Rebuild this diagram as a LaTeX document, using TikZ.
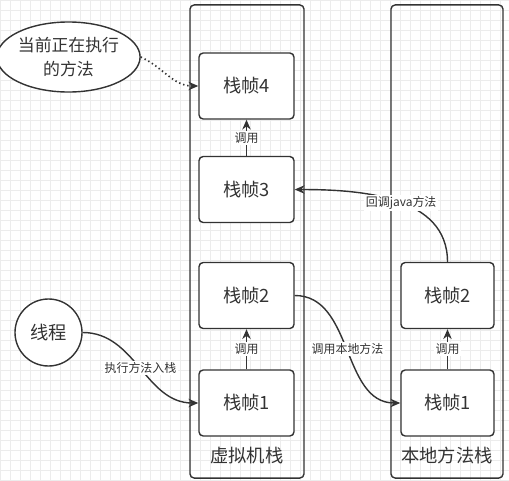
\documentclass[tikz,border=0pt]{standalone}
\usepackage{fontspec}
\setmainfont{Noto Sans CJK SC}
\usetikzlibrary{arrows.meta,positioning,shapes.geometric}
\definecolor{stkline}{RGB}{51,51,51}
\definecolor{stkgrid}{RGB}{236,236,236}

\begin{document}
\begin{tikzpicture}[x=0.025cm,y=-0.025cm,
  stack/.style={draw=stkline,line width=1pt,rounded corners=3pt,minimum width=2.85cm,minimum height=11.825cm},
  frame/.style={draw=stkline,line width=1pt,fill=white,rounded corners=3pt,minimum width=2.375cm,minimum height=1.65cm,font=\fontsize{13}{15}\selectfont,text=stkline},
  lbl/.style={fill=white,inner sep=1pt,font=\fontsize{8.5}{10}\selectfont,text=stkline},
  tip/.style={-{Stealth[length=7pt,width=6pt]}},
  link/.style={draw=stkline,line width=1pt,tip}]
  % --- background grid (10px) ---
  \useasboundingbox (0,0) rectangle (509,481);
  \foreach \gx in {0,10,...,500}{\draw[stkgrid,line width=0.4pt] (\gx,0) -- (\gx,481);}
  \foreach \gy in {0,10,...,480}{\draw[stkgrid,line width=0.4pt] (0,\gy) -- (509,\gy);}
  % --- the two stacks ---
  \node[stack] (vm) at (247,241.5) {};
  \node[stack,minimum width=2.8cm] (nat) at (447,241.5) {};
  \node[font=\fontsize{13}{15}\selectfont,text=stkline] (vmlab) at (247,456) {虚拟机栈};
  \node[font=\fontsize{13}{15}\selectfont,text=stkline] (natlab) at (447,456) {本地方法栈};
  % --- frames in the vm stack ---
  \node[frame] (f4) at (246.5,86) {栈帧4};
  \node[frame] (f3) at (246.5,189.5) {栈帧3};
  \node[frame] (f2) at (246.5,295.5) {栈帧2};
  \node[frame] (f1) at (246.5,403) {栈帧1};
  % --- frames in the native stack ---
  \node[frame,minimum width=2.325cm] (n2) at (447.5,295.5) {栈帧2};
  \node[frame,minimum width=2.325cm] (n1) at (447.5,403) {栈帧1};
  % --- current method, thread ---
  \node[ellipse,draw=stkline,line width=1pt,fill=white,minimum width=3.275cm,minimum height=1.75cm,inner sep=0pt,align=center,
        font=\fontsize{12}{17}\selectfont,text=stkline] (cur) at (68.5,57) {当前正在执行\\的方法};
  \node[circle,draw=stkline,line width=1pt,fill=white,minimum size=1.675cm,inner sep=0pt,
        font=\fontsize{13}{15}\selectfont,text=stkline] (thr) at (48.5,332.5) {线程};
  % --- calls inside the stacks ---
  \draw[link] (f3) -- (f4) node[midway,lbl] {调用};
  \draw[link] (f1) -- (f2) node[midway,lbl] {调用};
  \draw[link] (n1) -- (n2) node[midway,lbl] {调用};
  % --- connectors between shapes ---
  \draw[link,dotted,line width=1.2pt] (cur.east) to[out=-25,in=180] (f4.west);
  \draw[link] (thr.east) to[out=0,in=180] node[pos=0.5,lbl] {执行方法入栈} (f1.west);
  \draw[link] (f2.east) to[out=0,in=180] node[pos=0.5,lbl] {调用本地方法} (n1.west);
  \draw[link] (n2.north) to[out=90,in=0] node[pos=0.47,lbl] {回调java方法} (f3.east);
\end{tikzpicture}
\end{document}
